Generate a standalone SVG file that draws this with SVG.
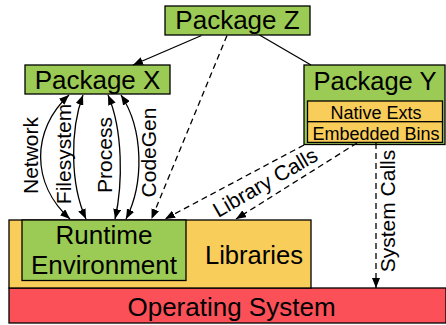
<svg xmlns="http://www.w3.org/2000/svg" width="446" height="325" viewBox="0 0 446 325">
  <style>
    .box { stroke: #000; stroke-width: 1.3; }
    .green { fill: #9BCB54; }
    .yellow { fill: #F9CD5A; }
    .red { fill: #FB5058; }
    text { font-family: "Liberation Sans", Arial, Helvetica, sans-serif; fill: #000; }
    .big { font-size: 26px; text-anchor: middle; }
    .small { font-size: 18px; text-anchor: middle; }
    .lbl { font-size: 21px; text-anchor: middle; }
    .edge { fill: none; stroke: #000; stroke-width: 1.3; }
    .dash { stroke-dasharray: 6 4; }
  </style>
  <defs>
    <marker id="ah" viewBox="0 0 10 8" refX="10" refY="4" markerWidth="10" markerHeight="8" markerUnits="userSpaceOnUse" orient="auto-start-reverse">
      <path d="M0,0 L10,4 L0,8 z" fill="#000"/>
    </marker>
  </defs>

  <!-- Operating system layer -->
  <g id="os">
    <rect class="box red" x="9" y="288" width="437" height="35"/>
    <text class="big" x="231.5" y="316">Operating System</text>
  </g>

  <!-- Libraries layer -->
  <g id="libraries">
    <rect class="box yellow" x="9" y="220" width="302" height="68"/>
    <text class="big" x="254" y="263.5" style="font-size:25.6px">Libraries</text>
  </g>

  <!-- Runtime environment -->
  <g id="runtime">
    <rect class="box green" x="22" y="220" width="164" height="60.5"/>
    <text class="big" x="104" y="243.5">Runtime</text>
    <text class="big" x="104" y="273.5">Environment</text>
  </g>

  <!-- Packages -->
  <g id="package-z">
    <rect class="box green" x="165" y="6" width="145" height="29"/>
    <text class="big" x="237.5" y="29">Package Z</text>
  </g>

  <g id="package-x">
    <rect class="box green" x="25" y="65" width="145" height="29"/>
    <text class="big" x="97.5" y="88.5">Package X</text>
  </g>

  <g id="package-y">
    <rect class="box green" x="304" y="65" width="141" height="79.5"/>
    <text class="big" x="375" y="89.5" style="font-size:25.5px">Package Y</text>
    <g id="native-exts">
      <rect class="box yellow" x="307.5" y="101" width="135" height="20.7"/>
      <text class="small" x="376" y="119">Native Exts</text>
    </g>
    <g id="embedded-bins">
      <rect class="box yellow" x="307.5" y="121.7" width="135" height="20.7"/>
      <text class="small" x="376" y="139.5">Embedded Bins</text>
    </g>
  </g>

  <!-- Connectors -->
  <g id="connectors">
    <line class="edge" x1="201.5" y1="35.5" x2="133" y2="65" marker-end="url(#ah)"/>
    <line class="edge" x1="259.5" y1="35" x2="311" y2="65"/>
    <line class="edge dash" x1="227" y1="35.5" x2="151.5" y2="219" marker-end="url(#ah)"/>

    <path class="edge" d="M69,95 C31,130 31,184 70,219" marker-start="url(#ah)" marker-end="url(#ah)"/>
    <path class="edge" d="M83,95 C70,130 70,184 86,219" marker-start="url(#ah)" marker-end="url(#ah)"/>
    <path class="edge" d="M108,95 C123,130 123,184 115,219" marker-start="url(#ah)" marker-end="url(#ah)"/>
    <path class="edge" d="M121,95 C144,130 144,184 126,219" marker-start="url(#ah)" marker-end="url(#ah)"/>

    <line class="edge dash" x1="304" y1="145" x2="165" y2="219" marker-end="url(#ah)"/>
    <line class="edge dash" x1="357" y1="143" x2="236" y2="219" marker-end="url(#ah)"/>
    <line class="edge dash" x1="376" y1="143" x2="376" y2="288" marker-end="url(#ah)"/>

    <text class="lbl" transform="translate(37.5,155.5) rotate(-90)">Network</text>
    <text class="lbl" transform="translate(71,154) rotate(-90)">Filesystem</text>
    <text class="lbl" transform="translate(112,155) rotate(-90)">Process</text>
    <text class="lbl" transform="translate(156,152.5) rotate(-90)">CodeGen</text>
    <text class="lbl" transform="translate(268.7,188.8) rotate(-30)">Library Calls</text>
    <text class="lbl" transform="translate(395,211) rotate(-90)">System Calls</text>
  </g>
</svg>
